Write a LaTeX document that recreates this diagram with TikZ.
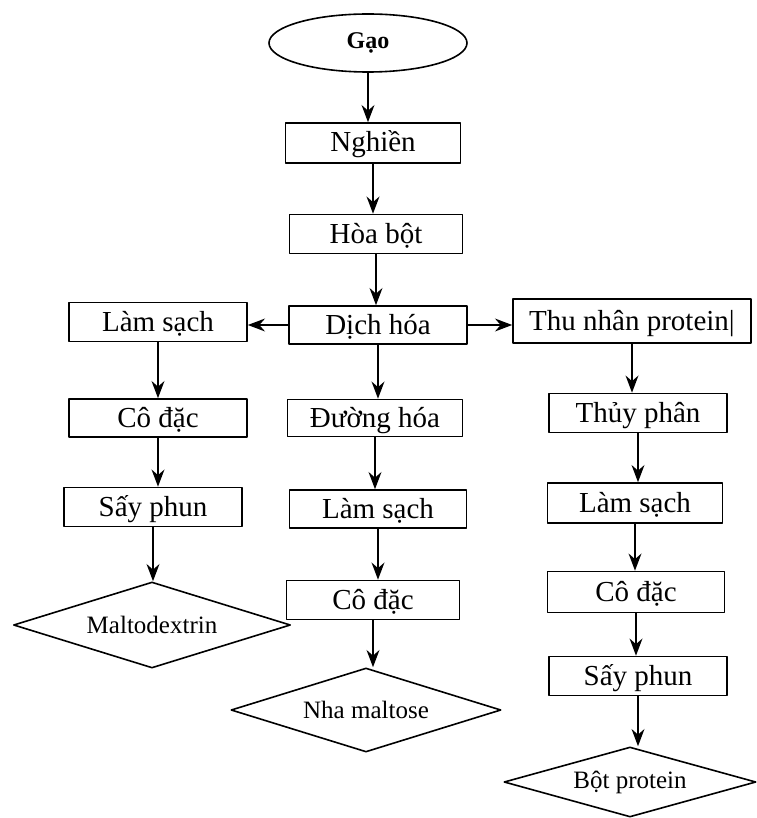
\documentclass[tikz,border=0pt]{standalone}
\usepackage{fontspec}
\setmainfont{Liberation Serif}
\usetikzlibrary{arrows.meta}
\usetikzlibrary{shapes.geometric}
\usetikzlibrary{calc}

\tikzset{
	stage/.style={draw, rectangle, fill=white, inner sep=0pt, text height=12pt, text depth=3pt, font=\fontsize{14.5}{14.5}\selectfont},
	product/.style={draw, diamond, fill=white, inner sep=0pt, aspect=3.2, font=\fontsize{12.5}{12.5}\selectfont},
}

\begin{document}
\begin{tikzpicture}[x=0.5pt, y=-0.5pt]
	\useasboundingbox (0,0) rectangle (756,818);
	\begin{scope}[>={Stealth[scale=1.3]},thick, line join=round]

	% raw material and common steps
	\node [draw, ellipse, minimum width=99pt, minimum height=29pt, inner sep=0pt, font=\fontsize{12}{12}\selectfont\bfseries] (gao) at (368,43) {Gạo};
	\node [stage, minimum width=87.5pt, minimum height=20pt] (nghien) at (373,143) {Nghiền};
	\node [stage, minimum width=86.5pt, minimum height=19.5pt] (hoabot) at (376,234) {Hòa bột};
	\node [stage, minimum width=89pt, minimum height=19pt] (dichhoa) at (378,325) {Dịch hóa};

	% left branch
	\node [stage, minimum width=89pt, minimum height=19.5pt] (lamsachL) at (158,322) {Làm sạch};
	\node [stage, minimum width=89pt, minimum height=19pt] (codacL) at (158,418) {Cô đặc};
	\node [stage, minimum width=89pt, minimum height=19.5pt] (sayphunL) at (153,507) {Sấy phun};
	\node [product, minimum width=138.5pt, minimum height=43pt] (malto) at (152,625) {Maltodextrin};

	% middle branch
	\node [stage, minimum width=87.5pt, minimum height=18.5pt] (duonghoa) at (375,418) {Đường hóa};
	\node [stage, minimum width=88.5pt, minimum height=19pt] (lamsachM) at (378,509) {Làm sạch};
	\node [stage, minimum width=86.5pt, minimum height=19.5pt] (codacM) at (373,600) {Cô đặc};
	\node [product, minimum width=135pt, minimum height=42pt] (nha) at (366,710) {Nha maltose};

	% right branch
	\node [stage, minimum width=119pt, minimum height=22pt] (thunhan) at (632,321) {Thu nhân protein|};
	\node [stage, minimum width=89pt, minimum height=19.5pt] (thuyphan) at (638,413) {Thủy phân};
	\node [stage, minimum width=87.5pt, minimum height=20pt] (lamsachR) at (635,503) {Làm sạch};
	\node [stage, minimum width=88.5pt, minimum height=20.5pt] (codacR) at (636,592) {Cô đặc};
	\node [stage, minimum width=89pt, minimum height=19.5pt] (sayphunR) at (638,676) {Sấy phun};
	\node [product, minimum width=126pt, minimum height=35pt] (botprotein) at (630,782) {Bột protein};

	% connectors
	\foreach \a/\b in {gao/nghien, nghien/hoabot, hoabot/dichhoa,
		lamsachL/codacL, codacL/sayphunL, sayphunL/malto,
		dichhoa/duonghoa, duonghoa/lamsachM, lamsachM/codacM, codacM/nha,
		thunhan/thuyphan, thuyphan/lamsachR, lamsachR/codacR, codacR/sayphunR, sayphunR/botprotein}
	{
		\draw [->] (\a.south) -- (\a.south |- \b.north);
	}
	\draw [->] (dichhoa.west) -- (dichhoa.west -| lamsachL.east);
	\draw [->] (dichhoa.east) -- (dichhoa.east -| thunhan.west);

	\end{scope}
\end{tikzpicture}
\end{document}
